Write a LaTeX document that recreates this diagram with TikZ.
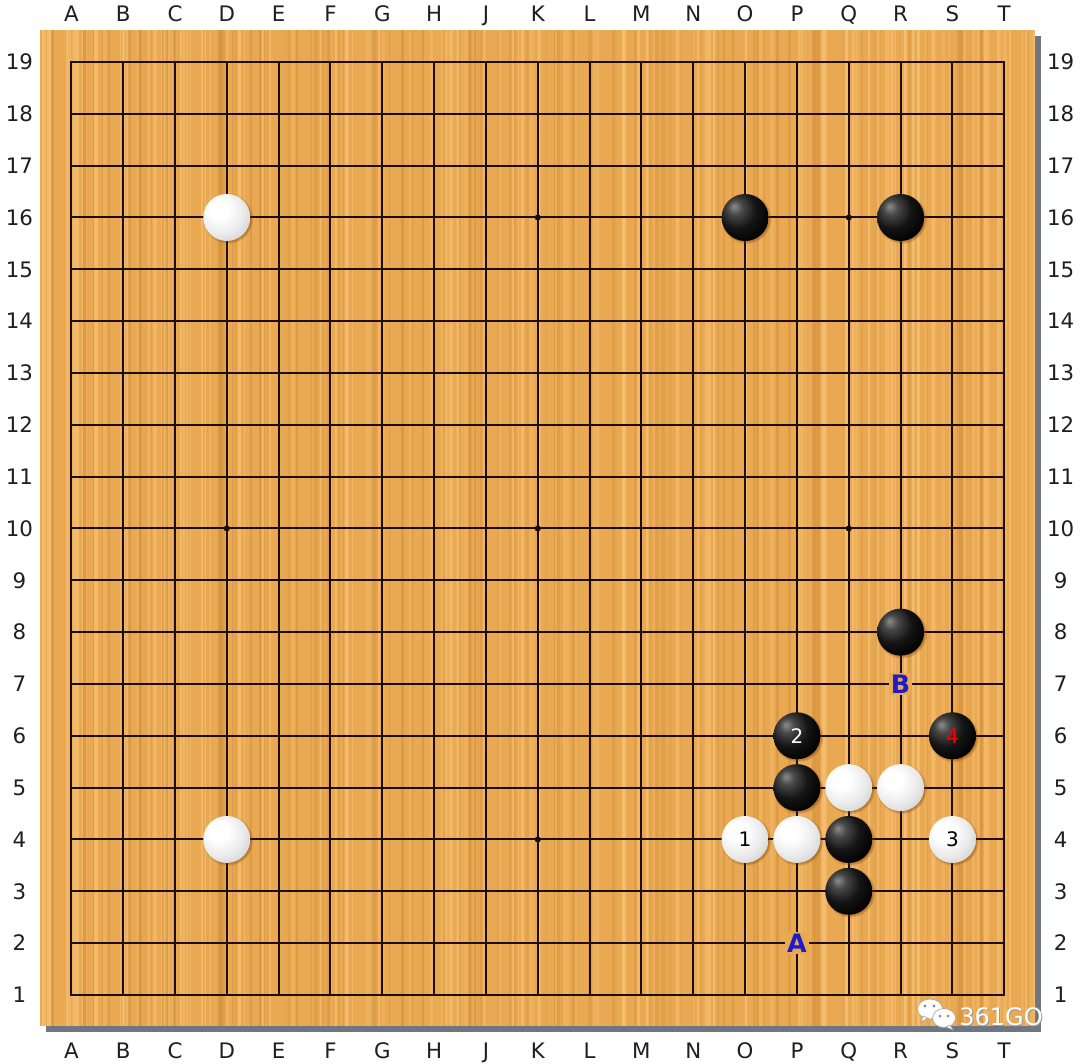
\documentclass[tikz,border=0pt]{standalone}
\usepackage{fontspec}
\setmainfont{DejaVu Sans}
\usetikzlibrary{shadows}
\definecolor{wood}{RGB}{233,168,82}
\definecolor{woodlight}{RGB}{247,194,116}
\definecolor{wooddark}{RGB}{212,144,58}
\definecolor{gridc}{RGB}{30,12,0}
\definecolor{lblue}{RGB}{28,28,205}
\definecolor{shadowc}{RGB}{112,118,128}
\definecolor{halo}{RGB}{120,60,5}
\pgfdeclareradialshading{blackstone}{\pgfpoint{-12bp}{12bp}}{color(0bp)=(black!45!white); color(8bp)=(black!72!white); color(20bp)=(black!92!white); color(34bp)=(black); color(70bp)=(black)}
\pgfdeclareradialshading{whitestone}{\pgfpoint{-10bp}{10bp}}{color(0bp)=(white); color(10bp)=(white); color(24bp)=(black!8!white); color(40bp)=(black!22!white); color(54bp)=(black!42!white); color(70bp)=(black!50!white)}
\tikzset{
  stone/.style={circle, minimum size=35.25pt, inner sep=0pt,
    font=\fontsize{15}{15}\selectfont,
    circular drop shadow={shadow xshift=0.8pt, shadow yshift=-0.8pt, shadow scale=1.08, fill=halo, opacity=0.5}},
  bstone/.style={stone, shading=blackstone, text=white},
  wstone/.style={stone, shading=whitestone, text=black},
  coordlbl/.style={font=\fontsize{16}{16}\selectfont, text=black!88, inner sep=0pt, text height=11.7pt, text depth=0pt},
  marklbl/.style={fill=wood, inner sep=1.5pt, text=lblue, font=\fontsize{19}{19}\selectfont\bfseries},
  gridline/.style={draw=gridc, line width=1.5pt},
}
\begin{document}
\begin{tikzpicture}[x=0.75pt, y=-0.75pt]
  \fill[white] (0,0) rectangle (1080,1063);
  \useasboundingbox (0,0) rectangle (1080,1063);
  % board shadow and wood
  \fill[shadowc] (46,36) rectangle (1041,1032);
  \fill[wood] (40,30) rectangle (1035,1026);
  \begin{scope}
    \clip (40,30) rectangle (1035,1026);
    \pgfmathsetseed{4}
    \foreach \k in {1,...,170}{
      \pgfmathsetmacro\xx{40+995*rnd}
      \pgfmathsetmacro\ww{1+3.5*rnd}
      \pgfmathsetmacro\oo{0.25+0.5*rnd}
      \fill[woodlight, opacity=\oo] (\xx,30) rectangle ++(\ww,996);
    }
    \foreach \k in {1,...,130}{
      \pgfmathsetmacro\xx{40+995*rnd}
      \pgfmathsetmacro\ww{1+2.5*rnd}
      \pgfmathsetmacro\oo{0.2+0.4*rnd}
      \fill[wooddark, opacity=\oo] (\xx,30) rectangle ++(\ww,996);
    }
  \end{scope}
  % grid
  \begin{scope}[xshift=53.475pt, yshift=-46.5pt, x=38.8725pt, y=-38.8725pt]
    \foreach \i in {1,...,17}{
      \draw[gridline] (\i,0) -- (\i,18);
      \draw[gridline] (0,\i) -- (18,\i);
    }
    \draw[gridline] (0,0) rectangle (18,18);
    \foreach \a in {3,9,15}{
      \foreach \b in {3,9,15}{
        \fill[gridc] (\a,\b) circle (2.3pt);
      }
    }
    % coordinates
    \foreach \l [count=\i from 0] in {A,B,C,D,E,F,G,H,J,K,L,M,N,O,P,Q,R,S,T}{
      \node[coordlbl] (top\l) at (\i,-0.93) {\l};
      \node[coordlbl] (bot\l) at (\i,19.07) {\l};
    }
    \foreach \r in {1,...,19}{
      \node[coordlbl] (left\r) at (-1.0,{19-\r}) {\r};
      \node[coordlbl] (right\r) at (19.09,{19-\r}) {\r};
    }
    % white stones
    \node[wstone] (D16) at (3,3) {};
    \node[wstone] (D4) at (3,15) {};
    \node[wstone] (O4) at (13,15) {1};
    \node[wstone] (P4) at (14,15) {};
    \node[wstone] (Q5) at (15,14) {};
    \node[wstone] (R5) at (16,14) {};
    \node[wstone] (S4) at (17,15) {3};
    % black stones
    \node[bstone] (O16) at (13,3) {};
    \node[bstone] (R16) at (16,3) {};
    \node[bstone] (R8) at (16,11) {};
    \node[bstone] (P6) at (14,13) {2};
    \node[bstone] (P5) at (14,14) {};
    \node[bstone] (Q4) at (15,15) {};
    \node[bstone] (Q3) at (15,16) {};
    \node[bstone, text=red] (S6) at (17,13) {4};
    % marks
    \node[marklbl] (markA) at (14,17) {A};
    \node[marklbl] (markB) at (16,12) {B};
  \end{scope}
  % watermark
  \begin{scope}
    \fill[white, draw=black!35, line width=0.5pt] (930,1009) ellipse [x radius=12.5, y radius=10];
    \fill[white, draw=black!35, line width=0.5pt] (923,1016) -- (921,1022) -- (928,1018) -- cycle;
    \fill[black!45] (925,1006) circle (1.6);
    \fill[black!45] (934,1006) circle (1.6);
    \fill[white, draw=black!35, line width=0.5pt] (944,1018) ellipse [x radius=11.5, y radius=9.5];
    \fill[white, draw=black!35, line width=0.5pt] (950,1025) -- (953,1030) -- (946,1027) -- cycle;
    \fill[black!45] (940,1016) circle (1.5);
    \fill[black!45] (948,1016) circle (1.5);
    \node[font=\fontsize{18}{18}\selectfont, text=black!40] (wmshadow) at (1002,1018) {361GO};
    \node[font=\fontsize{18}{18}\selectfont, text=white] (wm) at (1001,1017) {361GO};
  \end{scope}
\end{tikzpicture}
\end{document}
